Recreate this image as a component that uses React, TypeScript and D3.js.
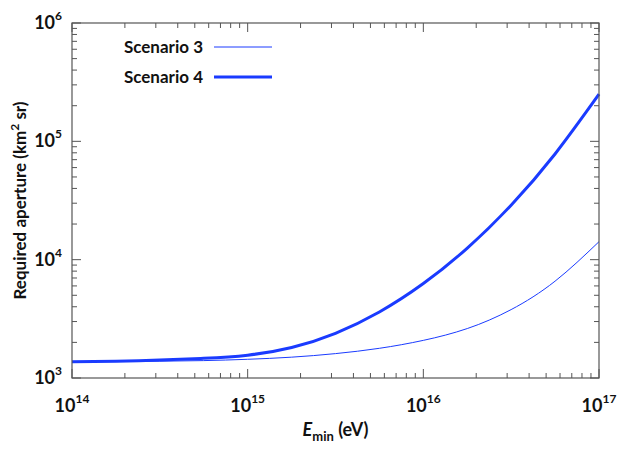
import React, { useEffect, useRef } from 'react';
import * as d3 from 'd3';

// minimum energy (eV) sample points
const energies = [
  1e14, 1.78e14, 3.16e14, 5.62e14,
  1e15, 1.78e15, 3.16e15, 5.62e15,
  1e16, 1.78e16, 3.16e16, 5.62e16,
  1e17,
];
// required aperture (km^2 sr)
const scenario3 = [1374, 1377, 1387, 1403, 1439, 1500, 1607, 1782, 2080, 2618, 3784, 6577, 14190];
const scenario4 = [1374, 1387, 1416, 1466, 1560, 1811, 2388, 3614, 6281, 12531, 28840, 78160, 250000];

const xTickExps = [14, 15, 16, 17];
const yTickExps = [3, 4, 5, 6];
const seriesNames = ['Scenario 3', 'Scenario 4'];

const FONT = 'Lato, "Open Sans", sans-serif';
const BLUE = '#1a3bff';

export default function App() {
  const ref = useRef<SVGSVGElement>(null);

  useEffect(() => {
    const width = 621;
    const height = 454;
    const margin = { top: 23, left: 72, right: 22, bottom: 76 };
    const iw = width - margin.left - margin.right;
    const ih = height - margin.top - margin.bottom;

    const svg = d3.select(ref.current);
    svg.selectAll('*').remove();
    svg.attr('width', width).attr('height', height);

    const x = d3.scaleLog().domain([1e14, 1e17]).range([0, iw]);
    const y = d3.scaleLog().domain([1e3, 1e6]).range([ih, 0]);

    const g = svg.append('g').attr('transform', `translate(${margin.left},${margin.top})`);

    // curves (spline through the read points, in log-log pixel space)
    const line = d3
      .line<[number, number]>()
      .x((d) => x(d[0]))
      .y((d) => y(d[1]))
      .curve(d3.curveNatural);

    const s3 = energies.map((e, i) => [e, scenario3[i]] as [number, number]);
    const s4 = energies.map((e, i) => [e, scenario4[i]] as [number, number]);

    g.append('path').attr('d', line(s3)).attr('fill', 'none').attr('stroke', BLUE).attr('stroke-width', 1);
    g.append('path').attr('d', line(s4)).attr('fill', 'none').attr('stroke', BLUE).attr('stroke-width', 3);

    // frame
    g.append('rect')
      .attr('width', iw)
      .attr('height', ih)
      .attr('fill', 'none')
      .attr('stroke', '#555')
      .attr('stroke-width', 1.2);

    const isMajor = (v: number) => Math.abs(Math.log10(v) - Math.round(Math.log10(v))) < 1e-6;
    const major = 9;
    const minor = 5;

    x.ticks().forEach((t) => {
      const len = isMajor(t) ? major : minor;
      const px = x(t);
      g.append('line').attr('x1', px).attr('x2', px).attr('y1', ih).attr('y2', ih - len).attr('stroke', '#555');
      g.append('line').attr('x1', px).attr('x2', px).attr('y1', 0).attr('y2', len).attr('stroke', '#555');
    });
    y.ticks().forEach((t) => {
      const len = isMajor(t) ? major : minor;
      const py = y(t);
      g.append('line').attr('x1', 0).attr('x2', len).attr('y1', py).attr('y2', py).attr('stroke', '#555');
      g.append('line').attr('x1', iw).attr('x2', iw - len).attr('y1', py).attr('y2', py).attr('stroke', '#555');
    });

    // tick labels
    xTickExps.forEach((e) => {
      const t = g
        .append('text')
        .attr('x', x(Math.pow(10, e)))
        .attr('y', ih + 34)
        .attr('text-anchor', 'middle')
        .attr('font-family', FONT)
        .attr('font-size', 18)
        .attr('font-weight', 'bold')
        .attr('fill', '#111');
      t.append('tspan').text('10');
      t.append('tspan').attr('dy', -9).attr('font-size', 12).text(String(e));
    });
    yTickExps.forEach((e) => {
      const t = g
        .append('text')
        .attr('x', -10)
        .attr('y', y(Math.pow(10, e)) + 6)
        .attr('text-anchor', 'end')
        .attr('font-family', FONT)
        .attr('font-size', 18)
        .attr('font-weight', 'bold')
        .attr('fill', '#111');
      t.append('tspan').text('10');
      t.append('tspan').attr('dy', -9).attr('font-size', 12).text(String(e));
    });

    // axis titles
    const xt = svg
      .append('text')
      .attr('x', margin.left + iw / 2)
      .attr('y', 436)
      .attr('text-anchor', 'middle')
      .attr('font-family', FONT)
      .attr('font-size', 18)
      .attr('font-weight', 'bold')
      .attr('fill', '#111');
    xt.append('tspan').attr('font-style', 'italic').text('E');
    xt.append('tspan').attr('dy', 5).attr('font-size', 13).text('min');
    xt.append('tspan').attr('dy', -5).text(' (eV)');

    const yt = svg
      .append('text')
      .attr('transform', `translate(26,${margin.top + ih / 2}) rotate(-90)`)
      .attr('text-anchor', 'middle')
      .attr('font-family', FONT)
      .attr('font-size', 17)
      .attr('font-weight', 'bold')
      .attr('fill', '#111');
    yt.append('tspan').text('Required aperture (km');
    yt.append('tspan').attr('dy', -7).attr('font-size', 12).text('2');
    yt.append('tspan').attr('dy', 7).text(' sr)');

    // legend
    seriesNames.forEach((name, i) => {
      const ly = 47 + i * 30;
      svg
        .append('text')
        .attr('x', 203)
        .attr('y', ly + 6)
        .attr('text-anchor', 'end')
        .attr('font-family', FONT)
        .attr('font-size', 17)
        .attr('font-weight', 'bold')
        .attr('fill', '#111')
        .text(name);
      svg
        .append('line')
        .attr('x1', 214)
        .attr('x2', 272)
        .attr('y1', ly)
        .attr('y2', ly)
        .attr('stroke', BLUE)
        .attr('stroke-width', i === 0 ? 1 : 3);
    });
  }, []);

  return (
    <div style={{ position: 'absolute', left: 0, top: 0, background: '#fff' }}>
      <svg ref={ref}></svg>
    </div>
  );
}
